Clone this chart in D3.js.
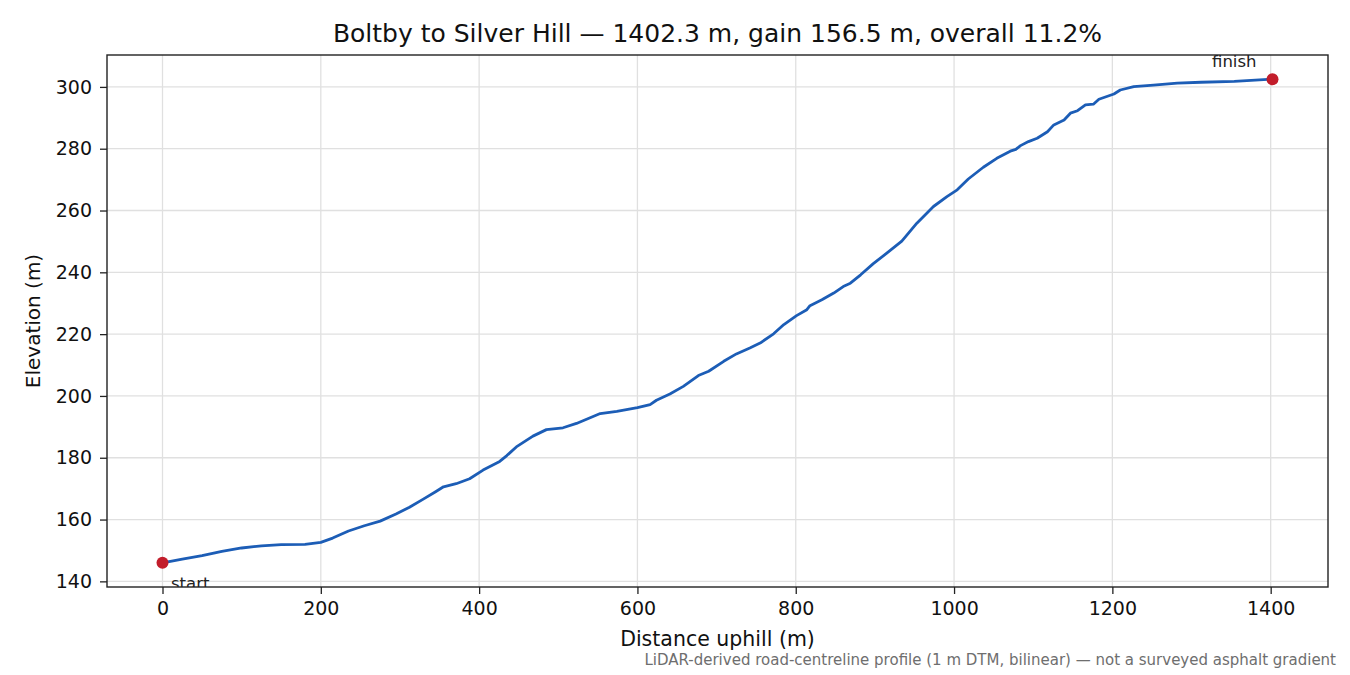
<!DOCTYPE html>
<html>
<head>
<meta charset="utf-8">
<script src="https://cdn.jsdelivr.net/npm/d3@7"></script>
<style>
  html, body { margin: 0; padding: 0; background: #fff; }
  svg { display: block; font-family: "DejaVu Sans", sans-serif; }
</style>
</head>
<body>
<svg id="chart" width="1350" height="675"></svg>
<script>
// ---- data ----
const distances = [0, 25, 50, 75, 100, 125, 150, 180, 200, 215, 235, 255, 275, 295, 312, 330, 345, 355, 371, 388,
  405, 426, 435, 447, 468, 485, 506, 523, 553, 574, 600, 616, 624, 641, 658, 677, 690, 709, 725, 742,
  755, 772, 785, 801, 814, 818, 833, 848, 860, 869, 882, 898, 915, 934, 953, 974, 991, 1004, 1018, 1037,
  1054, 1071, 1078, 1084, 1094, 1105, 1118, 1126, 1139, 1147, 1156, 1166, 1176, 1183, 1202, 1210, 1227, 1252, 1282, 1312,
  1354, 1402.3];
const elevations = [146.0, 147.2, 148.3, 149.7, 150.8, 151.5, 151.9, 152.0, 152.6, 154.0, 156.3, 158.0, 159.5, 161.8, 164.0, 166.7, 169.0, 170.6, 171.6, 173.2,
  176.0, 178.8, 180.7, 183.5, 187.0, 189.1, 189.7, 191.1, 194.3, 195.0, 196.2, 197.2, 198.6, 200.6, 203.1, 206.6, 208.0, 211.2, 213.6, 215.5,
  217.1, 220.1, 223.1, 226.0, 227.9, 229.2, 231.1, 233.3, 235.4, 236.5, 239.2, 242.8, 246.2, 250.1, 255.9, 261.3, 264.5, 266.7, 270.2, 274.0,
  276.9, 279.2, 279.8, 281.0, 282.3, 283.4, 285.5, 287.7, 289.3, 291.5, 292.3, 294.2, 294.4, 296.0, 297.7, 299.0, 300.1, 300.6, 301.2, 301.5,
  301.8, 302.5];
const xTicks = [0, 200, 400, 600, 800, 1000, 1200, 1400];
const yTicks = [140, 160, 180, 200, 220, 240, 260, 280, 300];
const endpointLabels = ["start", "finish"];
const titleText = "Boltby to Silver Hill \u2014 1402.3 m, gain 156.5 m, overall 11.2%";
const xLabel = "Distance uphill (m)";
const yLabel = "Elevation (m)";
const footnote = "LiDAR-derived road-centreline profile (1 m DTM, bilinear) \u2014 not a surveyed asphalt gradient";

// ---- layout ----
const svg = d3.select("#chart");
const L = 107, R = 1328, T = 55, B = 587;

const data = distances.map((d, i) => ({ d, e: elevations[i] }));
const dMin = d3.min(distances), dMax = d3.max(distances);
const eMin = d3.min(elevations), eMax = d3.max(elevations);
const xm = (dMax - dMin) * 0.05, ym = (eMax - eMin) * 0.05;

const x = d3.scaleLinear().domain([dMin - xm, dMax + xm]).range([L, R]);
const y = d3.scaleLinear().domain([eMin - ym, eMax + ym]).range([B, T]);

svg.append("rect").attr("width", 1350).attr("height", 675).attr("fill", "#fff");

svg.append("defs").append("clipPath").attr("id", "clip")
  .append("rect").attr("x", L).attr("y", T).attr("width", R - L).attr("height", B - T);

// grid
const grid = svg.append("g");
grid.selectAll("line.gx").data(xTicks).join("line")
  .attr("x1", d => x(d)).attr("x2", d => x(d)).attr("y1", T).attr("y2", B)
  .attr("stroke", "#e0e0e0").attr("stroke-width", 1.3);
grid.selectAll("line.gy").data(yTicks).join("line")
  .attr("y1", d => y(d)).attr("y2", d => y(d)).attr("x1", L).attr("x2", R)
  .attr("stroke", "#e0e0e0").attr("stroke-width", 1.3);

// line
const line = d3.line().x(p => x(p.d)).y(p => y(p.e));
svg.append("path").datum(data)
  .attr("clip-path", "url(#clip)")
  .attr("fill", "none").attr("stroke", "#1c5db6").attr("stroke-width", 2.8)
  .attr("stroke-linejoin", "round").attr("stroke-linecap", "round")
  .attr("d", line);

// endpoints
const ends = [data[0], data[data.length - 1]];
svg.selectAll("circle.end").data(ends).join("circle")
  .attr("cx", p => x(p.d)).attr("cy", p => y(p.e)).attr("r", 6)
  .attr("fill", "#c21d2b");

const ann = svg.append("g").attr("clip-path", "url(#clip)");
ann.append("text").text(endpointLabels[0])
  .attr("x", x(ends[0].d) + 8.5).attr("y", y(ends[0].e) + 26)
  .attr("font-size", 16.5).attr("fill", "#222");
svg.append("text").text(endpointLabels[1])
  .attr("x", x(ends[1].d) - 16).attr("y", y(ends[1].e) - 12.6)
  .attr("text-anchor", "end")
  .attr("font-size", 16.5).attr("fill", "#222");

// axes
const xAxis = svg.append("g").attr("transform", `translate(0,${B})`)
  .call(d3.axisBottom(x).tickValues(xTicks).tickFormat(d3.format("d")).tickSize(7).tickSizeOuter(0).tickPadding(8));
const yAxis = svg.append("g").attr("transform", `translate(${L},0)`)
  .call(d3.axisLeft(y).tickValues(yTicks).tickFormat(d3.format("d")).tickSize(7).tickSizeOuter(0).tickPadding(8));
[xAxis, yAxis].forEach(g => {
  g.select(".domain").remove();
  g.selectAll(".tick line").attr("stroke", "#222").attr("stroke-width", 1.3);
  g.selectAll(".tick text").attr("font-size", 19).attr("fill", "#111")
    .attr("font-family", "DejaVu Sans, sans-serif");
});

// frame
svg.append("rect").attr("x", L).attr("y", T).attr("width", R - L).attr("height", B - T)
  .attr("fill", "none").attr("stroke", "#222").attr("stroke-width", 1.4);

// texts
svg.append("text").text(titleText)
  .attr("x", (L + R) / 2).attr("y", 42).attr("text-anchor", "middle")
  .attr("font-size", 25).attr("fill", "#111");
svg.append("text").text(xLabel)
  .attr("x", (L + R) / 2).attr("y", 646).attr("text-anchor", "middle")
  .attr("font-size", 20.5).attr("fill", "#111");
svg.append("text").text(yLabel)
  .attr("transform", `translate(40,${(T + B) / 2}) rotate(-90)`)
  .attr("text-anchor", "middle")
  .attr("font-size", 20).attr("fill", "#111");
svg.append("text").text(footnote)
  .attr("x", 1336).attr("y", 665).attr("text-anchor", "end")
  .attr("font-size", 15).attr("fill", "#6e6e6e");
</script>
</body>
</html>
